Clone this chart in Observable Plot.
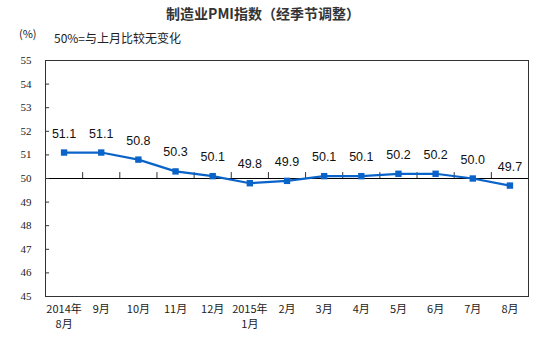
<!DOCTYPE html>
<html><head><meta charset="utf-8">
<script src="https://cdn.jsdelivr.net/npm/d3@7"></script>
<script src="https://cdn.jsdelivr.net/npm/@observablehq/plot@0.6"></script>
<style>
body{margin:0;background:#fff;}
#wrap{position:relative;width:534px;height:353px;}
.t{position:absolute;white-space:nowrap;color:#222;font-family:"Noto Sans CJK SC",sans-serif;}
</style>
</head><body>
<div id="wrap">
<div class="t" style="left:0;width:526px;text-align:center;top:3px;font-size:14px;font-weight:bold;color:#333;">制造业PMI指数（经季节调整）</div>
<div class="t" style="left:19px;top:25px;font-size:11px;">(%)</div>
<div class="t" style="left:54px;top:29px;font-size:12px;">50%=与上月比较无变化</div>
</div>
<script>
const months = ["2014年\n8月","9月","10月","11月","12月","2015年\n1月","2月","3月","4月","5月","6月","7月","8月"];
const values = [51.1,51.1,50.8,50.3,50.1,49.8,49.9,50.1,50.1,50.2,50.2,50.0,49.7];
const yTicks = [45,46,47,48,49,50,51,52,53,54,55];
const data = months.map((m,i)=>({i:i+0.5, l1:m.split("\n")[0], l2:m.split("\n")[1]||"", v:values[i]}));
const boundaries = d3.range(1, months.length);
const chart = Plot.plot({
  width:534, height:353,
  marginTop:60, marginBottom:57, marginLeft:45, marginRight:6,
  x:{domain:[0,13], axis:null, label:null},
  y:{domain:[45,55], axis:null, label:null},
  style:{background:"transparent"},
  marks:[
    Plot.frame({stroke:"#333", strokeWidth:1}),
    Plot.ruleY([50], {stroke:"#000", strokeWidth:1}),
    Plot.ruleX(boundaries, {y1:50, y2:50.25, stroke:"#333"}),
    Plot.ruleY(yTicks, {x1:0, x2:0.11, stroke:"#333"}),
    Plot.axisY(yTicks, {tickSize:0, tickPadding:14, fontSize:11, fontFamily:"Liberation Serif", fill:"#222", tickFormat:d=>String(d), label:null}),
    Plot.axisX(data.map(d=>d.i), {tickSize:0, tickPadding:9, fontSize:11, fontFamily:"Noto Sans CJK SC", fill:"#222", tickFormat:(d)=>data[Math.floor(d)].l1, label:null}),
    Plot.axisX(data.filter(d=>d.l2).map(d=>d.i), {tickSize:0, tickPadding:24, fontSize:11, fontFamily:"Noto Sans CJK SC", fill:"#222", tickFormat:(d)=>data[Math.floor(d)].l2, label:null}),
    Plot.line(data, {x:"i", y:"v", stroke:"#0a63c9", strokeWidth:2.2}),
    Plot.dot(data, {x:"i", y:"v", symbol:"square", r:3.6, fill:"#0a63c9", stroke:"none"}),
    Plot.text(data, {x:"i", y:"v", text:d=>d.v.toFixed(1), dy:-19, fontSize:12.5, fontFamily:"Liberation Sans", fill:"#111"})
  ]
});
chart.style.position="absolute";chart.style.left="0";chart.style.top="0";
document.getElementById("wrap").prepend(chart);
</script>
</body></html>
